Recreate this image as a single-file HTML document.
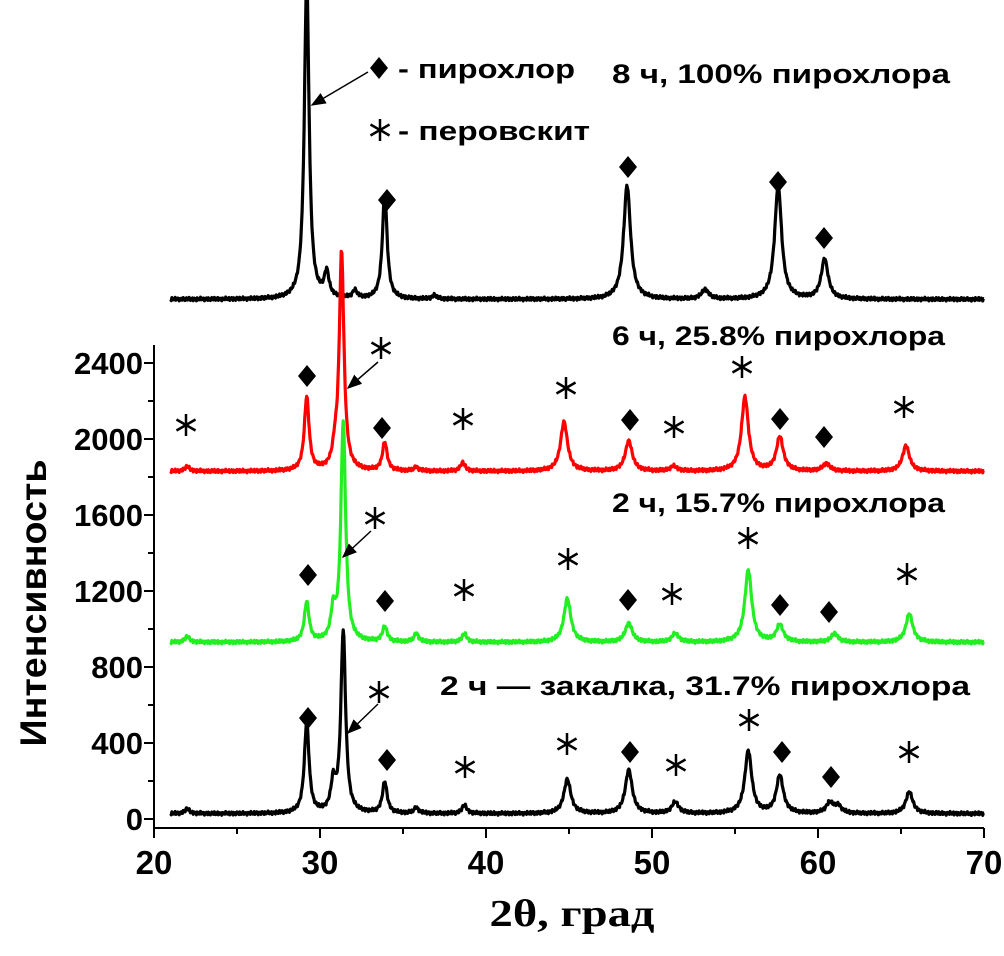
<!DOCTYPE html>
<html><head><meta charset="utf-8"><style>
body{margin:0;background:#fff}
svg text{font-family:"Liberation Sans",sans-serif;font-weight:bold}
</style></head><body>
<svg id="chart" width="1004" height="951" viewBox="0 0 1004 951" xmlns="http://www.w3.org/2000/svg">
<defs>
<clipPath id="clip"><rect x="0" y="0" width="1004" height="951"/></clipPath>
<marker id="ah" markerWidth="10" markerHeight="10" refX="9" refY="5" orient="auto"><path d="M0,1 L10,5 L0,9 z" fill="#000"/></marker>
</defs>
<g id="axes"></g>
<g id="series" clip-path="url(#clip)"></g>
<g id="annot"></g>
<text x="0" y="0" transform="translate(46,603) rotate(-90)" text-anchor="middle" font-size="37" textLength="287" lengthAdjust="spacingAndGlyphs">Интенсивность</text>
<text x="572" y="926" text-anchor="middle" font-size="38" textLength="165" lengthAdjust="spacingAndGlyphs" style="font-family:'Liberation Serif',serif">2θ, град</text>
<text x="398" y="78" font-size="27" textLength="177" lengthAdjust="spacingAndGlyphs">- пирохлор</text>
<text x="398" y="140" font-size="27" textLength="192" lengthAdjust="spacingAndGlyphs">- перовскит</text>
<text x="612" y="83" font-size="27" textLength="338" lengthAdjust="spacingAndGlyphs">8 ч, 100% пирохлора</text>
<text x="612" y="345" font-size="27" textLength="333" lengthAdjust="spacingAndGlyphs">6 ч, 25.8% пирохлора</text>
<text x="612" y="512" font-size="27" textLength="333" lengthAdjust="spacingAndGlyphs">2 ч, 15.7% пирохлора</text>
<text x="440" y="695" font-size="27" textLength="530" lengthAdjust="spacingAndGlyphs">2 ч —  закалка, 31.7% пирохлора</text>
</svg>
<script>
const xTicks=[20,30,40,50,60,70];
const yTicks=[0,400,800,1200,1600,2000,2400];
// peaks: positions, heights above baseline
const topPos=[29.2,30.4,32.1,33.9,36.9,48.5,53.2,57.6,60.4];
const topH=[1700,130,40,560,20,600,50,600,210];
const topBase=2735;
const redPos=[22,29.2,30.9,31.3,33.9,35.8,38.6,44.7,48.6,51.3,55.6,57.7,60.5,65.3];
const redH=[25,390,80,1150,150,20,45,260,160,25,390,180,40,135];
const redBase=1830;
const greenPos=[22,29.2,30.8,31.4,33.9,35.8,38.7,44.9,48.6,51.4,55.8,57.7,61,65.5];
const greenH=[30,210,150,1160,80,45,45,230,100,45,380,90,45,150];
const greenBase=930;
const blackPos=[22,29.2,30.8,31.4,33.9,35.8,38.7,44.9,48.6,51.4,55.8,57.7,60.7,61.2,65.5];
const blackH=[25,480,150,960,165,30,45,180,230,60,330,200,55,40,115];
const blackBase=28;

const X0=154,XS=16.6,Y0=819,YS=76/400;
const sx=v=>X0+(v-20)*XS;
const sy=v=>Y0-v*YS;
const NS="http://www.w3.org/2000/svg";
function mk(t,a,p){const e=document.createElementNS(NS,t);for(const k in a)e.setAttribute(k,a[k]);p.appendChild(e);return e;}
const axes=document.getElementById('axes');
let l=mk('line',{x1:X0,y1:828,x2:sx(70),y2:828,stroke:'#000','stroke-width':2},axes);


l=mk('line',{x1:X0,y1:345,x2:X0,y2:829,stroke:'#000','stroke-width':2},axes);


for(let v=20;v<=70;v+=5){const major=v%10===0;const t=mk('line',{x1:sx(v),y1:828,x2:sx(v),y2:828+(major?10:6),stroke:'#000','stroke-width':2},axes);

}
xTicks.forEach(v=>{const t=mk('text',{x:sx(v),y:874,'text-anchor':'middle','font-size':33},axes);t.textContent=v;

});
for(let v=0;v<=2400;v+=200){const major=v%400===0;const t=mk('line',{x1:X0-(major?10:6),y1:sy(v),x2:X0,y2:sy(v),stroke:'#000','stroke-width':2},axes);

}
yTicks.forEach(v=>{const t=mk('text',{x:143,y:sy(v)+11,'text-anchor':'end','font-size':31},axes);t.textContent=v;

});

const ser=document.getElementById('series');
function curve(pos,h,base,color,name){
  let d='';
  for(let x=21;x<=70.001;x+=0.04){
    let y=base;
    for(let i=0;i<pos.length;i++){const w=pos[i]>40?0.25:0.17;const u=(x-pos[i])/w;y+=h[i]/(1+u*u);}
    y+=6*Math.sin(x*37)+4*Math.sin(x*91);
    d+=(d?'L':'M')+sx(x).toFixed(1)+','+sy(y).toFixed(1);
  }
  const p=mk('path',{d:d,fill:'none',stroke:color,'stroke-width':3.2,'stroke-linejoin':'round'},ser);
  
  
}
curve(topPos,topH,topBase,'#000','series-8h');
curve(blackPos,blackH,blackBase,'#000','series-2h-quench');
curve(greenPos,greenH,greenBase,'#22ee22','series-2h');
curve(redPos,redH,redBase,'#ff0000','series-6h');

const an=document.getElementById('annot');
const diamonds=[[379,68],[387,200],[628,167],[778,182],[824,238],[307,376],[382,428],[630,420],[780,419],[824,437],[308,575],[385,601],[628,600],[780,605],[829,612],[308,718],[387,760],[630,752],[782,752],[831,777]];
const stars=[[380,130],[186,425],[381,348],[463,419],[566,388],[674,427],[742,367],[904,407],[375,518],[464,590],[568,559],[672,594],[748,538],[907,574],[379,692],[465,767],[567,744],[676,765],[749,720],[909,752]];
diamonds.forEach(([x,y])=>{const p=mk('polygon',{points:`${x},${y-11} ${x+9},${y} ${x},${y+11} ${x-9},${y}`,fill:'#000'},an);

});
stars.forEach(([x,y])=>{const g=mk('g',{stroke:'#000','stroke-width':2.5},an);


for(let a=0;a<3;a++){const r=11,t=Math.PI/2+a*Math.PI/3;mk('line',{x1:x+r*Math.cos(t),y1:y+r*Math.sin(t),x2:x-r*Math.cos(t),y2:y-r*Math.sin(t)},g);}});
[[368,72,312,105],[378,362,348,388],[371,531,343,557],[378,704,348,733]].forEach(([a,b,c,d])=>{const e=mk('line',{x1:a,y1:b,x2:c,y2:d,stroke:'#000','stroke-width':1.5,'marker-end':'url(#ah)'},an);

});
</script>
</body></html>
